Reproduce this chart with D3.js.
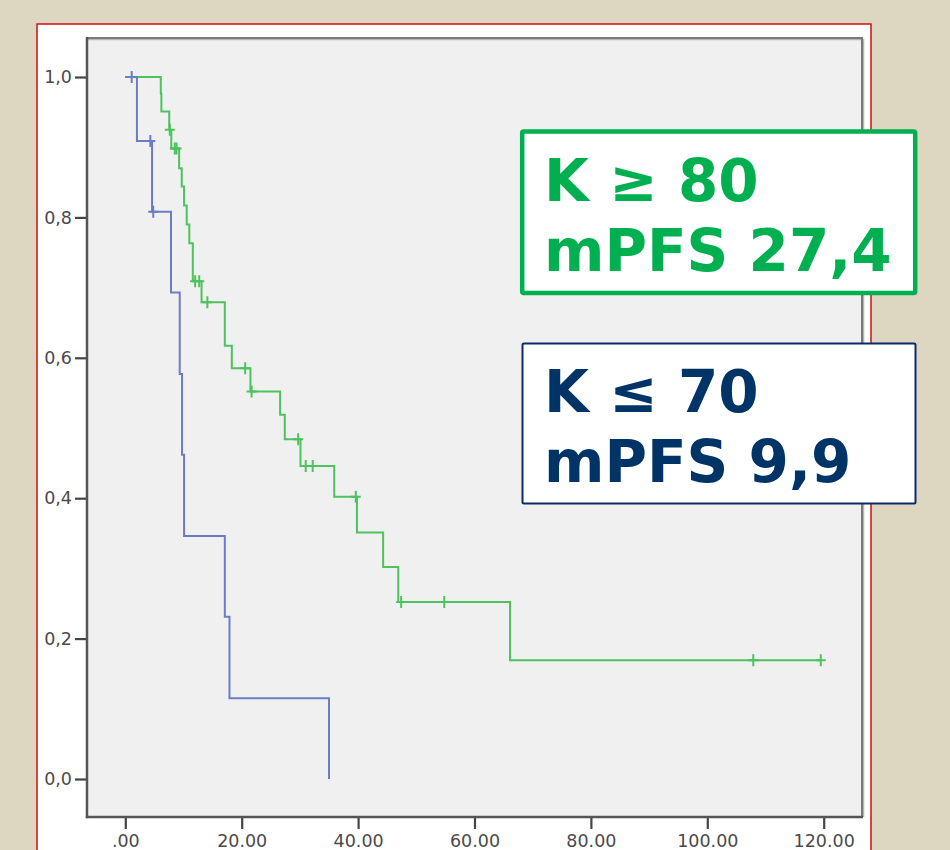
<!DOCTYPE html>
<html>
<head>
<meta charset="utf-8">
<script src="https://cdn.jsdelivr.net/npm/d3@7/dist/d3.min.js"></script>
<style>
  html, body { margin: 0; padding: 0; background: #ddd7c2; }
  svg { display: block; }
</style>
</head>
<body>
<svg id="chart" width="950" height="850"></svg>
<script>
// ---------- DATA ----------
const xTickValues = [0, 20, 40, 60, 80, 100, 120];
const xTickLabels = [".00", "20.00", "40.00", "60.00", "80.00", "100.00", "120.00"];
const yTickValues = [0, 0.2, 0.4, 0.6, 0.8, 1.0];
const yTickLabels = ["0,0", "0,2", "0,4", "0,6", "0,8", "1,0"];

// K >= 80 (green)
const greenEventTimes = [6.1, 6.2, 7.55, 7.9, 9.25, 9.7, 10.1, 10.55, 11.0, 11.6, 13.1, 17.1, 18.3, 21.5, 26.6, 27.4, 30.1, 35.9, 39.8, 44.3, 46.9, 66.1];
const greenEventSurv  = [0.976, 0.951, 0.925, 0.898, 0.870, 0.844, 0.817, 0.790, 0.763, 0.709, 0.679, 0.617, 0.585, 0.552, 0.519, 0.484, 0.446, 0.402, 0.351, 0.302, 0.252, 0.169];
const greenCensorTimes = [7.65, 8.5, 8.8, 12.0, 12.7, 14.1, 20.6, 21.7, 29.7, 31.0, 32.2, 39.6, 47.4, 54.8, 107.9, 119.5];
const greenEnd = 119.5;

// K <= 70 (blue)
const blueEventTimes = [2.0, 4.6, 7.85, 9.35, 9.75, 10.1, 17.1, 17.9, 35.0];
const blueEventSurv  = [0.909, 0.808, 0.693, 0.577, 0.462, 0.346, 0.231, 0.115, 0.0];
const blueCensorTimes = [1.1, 4.3, 4.8];
const blueEnd = 35.0;

const legendGreen = ["K \u2265 80", "mPFS 27,4"];
const legendBlue  = ["K \u2264 70", "mPFS 9,9"];

// ---------- DRAW ----------
const svg = d3.select("#chart");
const greenColor = "#4cc35c";
const blueColor = "#6a7cc8";

// outer red frame
svg.append("rect").attr("x", 37).attr("y", 24).attr("width", 834).attr("height", 840)
  .attr("fill", "#ffffff").attr("stroke", "#cc1111").attr("stroke-width", 1.5);

const plot = { left: 87, top: 38, right: 862, bottom: 817 };

const x = d3.scaleLinear().domain([0, 120]).range([125.3, 823.7]);
const y = d3.scaleLinear().domain([0, 1]).range([779, 77]);

// plot area
svg.append("rect")
  .attr("x", plot.left).attr("y", plot.top)
  .attr("width", plot.right - plot.left).attr("height", plot.bottom - plot.top)
  .attr("fill", "#f0f0f0");
// top/right frame with slight shadow
svg.append("path")
  .attr("d", `M${plot.left},${plot.top + 1.5}H${plot.right + 1.5}V${plot.bottom}`)
  .attr("fill", "none").attr("stroke", "#b5b5b5").attr("stroke-width", 1.5);
svg.append("path")
  .attr("d", `M${plot.left},${plot.top}H${plot.right}V${plot.bottom}`)
  .attr("fill", "none").attr("stroke", "#7a7a7a").attr("stroke-width", 2);

// axes
const yAxis = d3.axisLeft(y).tickValues(yTickValues)
  .tickFormat((d, i) => yTickLabels[i]).tickSize(12).tickPadding(3);
const xAxis = d3.axisBottom(x).tickValues(xTickValues)
  .tickFormat((d, i) => xTickLabels[i]).tickSize(12).tickPadding(6);

const gy = svg.append("g").attr("transform", `translate(${plot.left},0)`).call(yAxis);
const gx = svg.append("g").attr("transform", `translate(0,${plot.bottom})`).call(xAxis);

[gx, gy].forEach(g => {
  g.select(".domain").remove();
  g.selectAll(".tick line").attr("stroke", "#444").attr("stroke-width", 2.2);
  g.selectAll(".tick text").attr("fill", "#4a4a4a")
    .style("font-family", "'DejaVu Sans', sans-serif").style("font-size", "17.5px");
});
// axis lines
svg.append("line").attr("x1", plot.left).attr("x2", plot.left)
  .attr("y1", plot.top - 1).attr("y2", plot.bottom + 1.2)
  .attr("stroke", "#555").attr("stroke-width", 2.5);
svg.append("line").attr("x1", plot.left - 1.2).attr("x2", plot.right + 1)
  .attr("y1", plot.bottom).attr("y2", plot.bottom)
  .attr("stroke", "#555").attr("stroke-width", 2.5);

// step curves
function stepPoints(times, surv, end) {
  const pts = [[0, 1]];
  times.forEach((t, i) => pts.push([t, surv[i]]));
  if (end > times[times.length - 1]) pts.push([end, surv[surv.length - 1]]);
  return pts;
}
function survAt(times, surv, t) {
  let s = 1;
  for (let i = 0; i < times.length; i++) if (times[i] <= t) s = surv[i];
  return s;
}
const line = d3.line().x(d => x(d[0])).y(d => y(d[1])).curve(d3.curveStepAfter);

function drawSeries(times, surv, censors, end, color) {
  const g = svg.append("g");
  g.append("path").datum(stepPoints(times, surv, end))
    .attr("d", line).attr("fill", "none")
    .attr("stroke", color).attr("stroke-width", 2);
  g.selectAll("path.cens").data(censors).enter().append("path")
    .attr("class", "cens")
    .attr("d", t => {
      const cx = x(t), cy = y(survAt(times, surv, t));
      return `M${cx},${cy - 6}V${cy + 6}M${cx - 5},${cy}H${cx + 5}`;
    })
    .attr("stroke", color).attr("stroke-width", 2).attr("fill", "none");
}
drawSeries(greenEventTimes, greenEventSurv, greenCensorTimes, greenEnd, greenColor);
drawSeries(blueEventTimes, blueEventSurv, blueCensorTimes, blueEnd, blueColor);

// legend boxes
function legendBox(bx, by, bw, bh, stroke, sw, color, lines, baselines) {
  svg.append("rect").attr("x", bx).attr("y", by).attr("width", bw).attr("height", bh)
    .attr("rx", 1.5).attr("fill", "#ffffff").attr("stroke", stroke).attr("stroke-width", sw);
  lines.forEach((txt, i) => {
    svg.append("text").attr("x", 544).attr("y", baselines[i])
      .attr("fill", color)
      .style("font-family", "'DejaVu Sans', sans-serif")
      .style("font-weight", "bold").style("font-size", "58px")
      .text(txt);
  });
}
legendBox(522.2, 131.5, 393, 161.5, "#00b050", 4.5, "#00b050", legendGreen, [201, 271]);
legendBox(522.5, 343.5, 393, 160, "#0a2a68", 2, "#003366", legendBlue, [411.5, 481.5]);
</script>
</body>
</html>
